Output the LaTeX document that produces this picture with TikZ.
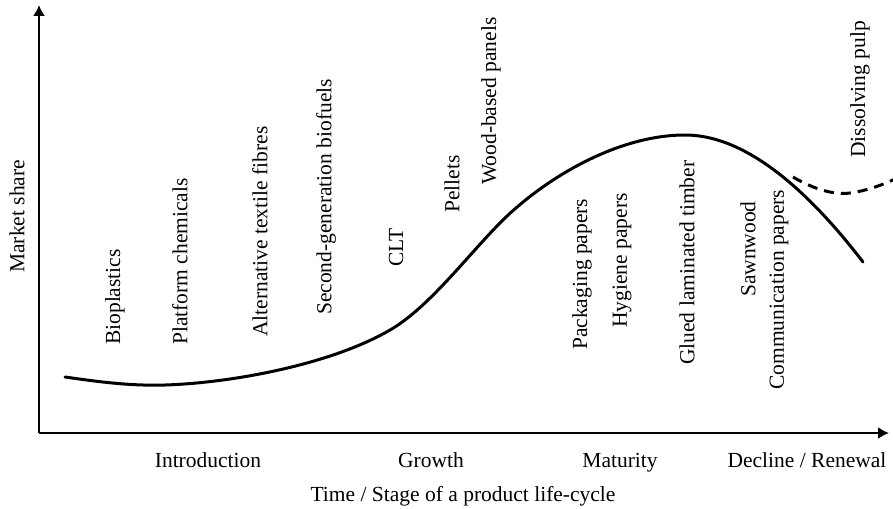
\documentclass[tikz,border=0pt]{standalone}
\usepackage{fontspec}
\setmainfont{Liberation Serif}
\usetikzlibrary{arrows.meta}

\begin{document}
\begin{tikzpicture}[x=1pt, y=-1pt, font=\fontsize{21.5}{26}\selectfont]
	\tikzstyle{product}=[rotate=90, anchor=west, inner sep=0pt]
	\tikzstyle{stage}=[inner sep=0pt, anchor=base]
	\tikzstyle{axis}=[line width=2pt, -{Latex[length=11pt,width=12pt]}]
	\tikzstyle{lifecycle}=[line width=3pt, line cap=round]

	\useasboundingbox (0,0) rectangle (893,508);

	% Draw axes
	\coordinate (origin) at (39,433);
	\coordinate (xend) at (889,433);
	\coordinate (yend) at (39,5);
	\draw[axis] (origin) -- (xend);
	\draw[axis] (origin) -- (yend);

	% Draw curves
	\draw[lifecycle] (65,377) .. controls (100,382) and (130,386) .. (165,385)
		.. controls (230,383) and (330,365) .. (390,330)
		.. controls (430,307) and (470,252) .. (505,218)
		.. controls (550,175) and (620,135) .. (685,135)
		.. controls (740,135) and (800,180) .. (863,262);
	\draw[lifecycle, line cap=butt, dash pattern=on 10pt off 7pt] (793,177) .. controls (815,190) and (835,195) .. (850,193)
		.. controls (865,191) and (880,186) .. (895,179);

	% Draw products
	\node[product] (bio) at (115,345) {Bioplastics};
	\node[product] (chem) at (180,345) {Platform chemicals};
	\node[product] (fibres) at (260,337) {Alternative textile fibres};
	\node[product] (biofuels) at (326,315) {Second-generation biofuels};
	\node[product] (clt) at (396,267) {CLT};
	\node[product] (pellets) at (452,213) {Pellets};
	\node[product] (panels) at (491,185) {Wood-based panels};
	\node[product] (packaging) at (582,350) {Packaging papers};
	\node[product] (hygiene) at (622,328) {Hygiene papers};
	\node[product] (glulam) at (687,365) {Glued laminated timber};
	\node[product] (sawnwood) at (748,297) {Sawnwood};
	\node[product] (communication) at (779,390) {Communication papers};
	\node[product] (pulp) at (860,158) {Dissolving pulp};

	% Draw stages and axis titles
	\node[stage] (intro) at (208,467) {Introduction};
	\node[stage] (growth) at (431,467) {Growth};
	\node[stage] (maturity) at (620,467) {Maturity};
	\node[stage] (decline) at (807,467) {Decline / Renewal};
	\node[stage] (xtitle) at (463,501) {Time / Stage of a product life-cycle};
	\node[product] (ytitle) at (17,273) {Market share};
\end{tikzpicture}
\end{document}
